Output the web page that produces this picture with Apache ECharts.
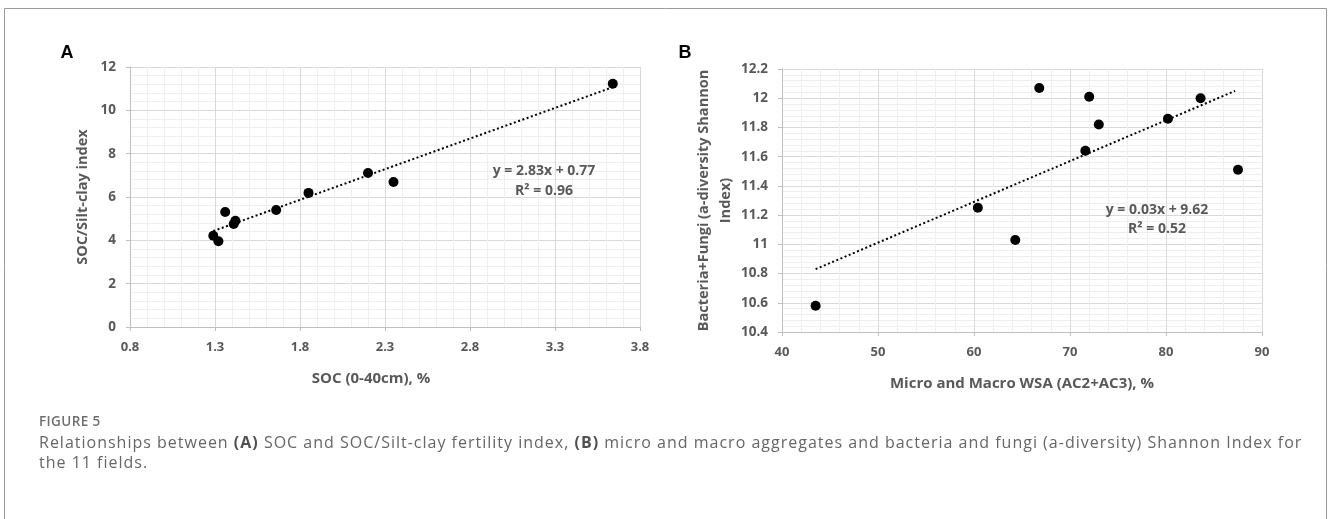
<!DOCTYPE html>
<html>
<head>
<meta charset="utf-8">
<script src="https://cdn.jsdelivr.net/npm/echarts@6/dist/echarts.min.js"></script>
<style>
html,body{margin:0;padding:0;background:#fff;}
#wrap{position:relative;width:1328px;height:519px;overflow:hidden;}
#chart{position:absolute;left:0;top:0;width:1328px;height:519px;}
#caption{position:absolute;left:39px;top:410px;width:1285px;font-family:"Open Sans",sans-serif;color:#666;}
#caption .fig{font-size:13.5px;font-weight:600;color:#6f6f6f;letter-spacing:0.4px;line-height:22px;}
#caption .txt{font-size:16px;line-height:20px;letter-spacing:1px;white-space:nowrap;}
#caption b{color:#505050;font-weight:700;}
</style>
</head>
<body>
<div id="wrap">
<div id="chart"></div>
<div id="caption"></div>
</div>
<script>
// Panel A: SOC vs SOC/Silt-clay index
const socX = [1.29, 1.32, 1.36, 1.41, 1.42, 1.66, 1.85, 2.20, 2.35, 3.64];
const socIndexY = [4.21, 3.96, 5.31, 4.75, 4.90, 5.40, 6.19, 7.11, 6.69, 11.23];
const trendAX = [1.29, 3.64];
const trendAY = [4.43, 11.07];
const eqA = ['y = 2.83x + 0.77', 'R² = 0.96'];

// Panel B: WSA vs Shannon index
const wsaX = [43.5, 60.4, 64.3, 66.8, 71.6, 72.0, 73.0, 80.2, 83.6, 87.5];
const shannonY = [10.58, 11.25, 11.03, 12.07, 11.64, 12.01, 11.82, 11.86, 12.00, 11.51];
const trendBX = [43.5, 87.2];
const trendBY = [10.83, 12.05];
const eqB = ['y = 0.03x + 9.62', 'R² = 0.52'];

const captionTitle = 'FIGURE 5';
const captionLines = [
  'Relationships between <b>(A)</b> SOC and SOC/Silt-clay fertility index, <b>(B)</b> micro and macro aggregates and bacteria and fungi (a-diversity) Shannon Index for',
  'the 11 fields.'
];

const FONT = '"Open Sans", sans-serif';
const LABEL_COLOR = '#595959';

document.getElementById('caption').innerHTML =
  '<div class="fig">' + captionTitle + '</div>' +
  captionLines.map(l => '<div class="txt">' + l + '</div>').join('');

function pairs(xs, ys) { return xs.map((x, i) => [x, ys[i]]); }

function xAxisCfg(gridIndex, min, max, interval, name, namePad) {
  return {
    type: 'value', gridIndex, min, max, interval,
    name, nameLocation: 'middle', nameGap: 44,
    nameTextStyle: { fontFamily: FONT, fontWeight: 'bold', fontSize: 15, color: LABEL_COLOR, padding: namePad },
    axisLine: { show: true, onZero: false, lineStyle: { color: '#bfbfbf', width: 1 } },
    axisTick: { show: true, length: 4, lineStyle: { color: '#bfbfbf' } },
    axisLabel: { margin: 14, fontFamily: FONT, fontWeight: 'bold', fontSize: 13, color: LABEL_COLOR },
    splitLine: { show: true, lineStyle: { color: '#d9d9d9', width: 1 } },
    minorTick: { show: false, splitNumber: 5 },
    minorSplitLine: { show: true, lineStyle: { color: '#efefef', width: 1 } }
  };
}
function yAxisCfg(gridIndex, min, max, interval, name, nameGap, lineHeight) {
  return {
    type: 'value', gridIndex, min, max, interval,
    name, nameLocation: 'middle', nameGap,
    nameTextStyle: { fontFamily: FONT, fontWeight: 'bold', fontSize: 14.5, color: LABEL_COLOR, lineHeight: lineHeight, align: 'center' },
    axisLine: { show: true, onZero: false, lineStyle: { color: '#bfbfbf', width: 1 } },
    axisTick: { show: true, length: 4, lineStyle: { color: '#bfbfbf' } },
    axisLabel: { margin: 14, fontFamily: FONT, fontWeight: 'bold', fontSize: 13.5, color: LABEL_COLOR },
    splitLine: { show: true, lineStyle: { color: '#d9d9d9', width: 1 } },
    minorTick: { show: false, splitNumber: 5 },
    minorSplitLine: { show: true, lineStyle: { color: '#efefef', width: 1 } }
  };
}

const chart = echarts.init(document.getElementById('chart'), null, { renderer: 'canvas' });

const textStyleEq = { fontFamily: FONT, fontWeight: 'bold', fontSize: 14, fill: LABEL_COLOR, textAlign: 'center', textVerticalAlign: 'middle' };
const dotStyle = { color: '#000', opacity: 1 };

chart.setOption({
  backgroundColor: '#ffffff',
  animation: false,
  grid: [
    { left: 130, top: 67, width: 510, height: 260 },
    { left: 782, top: 69, width: 480, height: 263 }
  ],
  xAxis: [
    xAxisCfg(0, 0.8, 3.8, 0.5, 'SOC (0-40cm), %', [0, 28, 0, 0]),
    xAxisCfg(1, 40, 90, 10, 'Micro and Macro WSA (AC2+AC3), %', 0)
  ],
  yAxis: [
    yAxisCfg(0, 0, 12, 2, 'SOC/Silt-clay index', 38, 18),
    yAxisCfg(1, 10.4, 12.2, 0.2, 'Bacteria+Fungi (a-diversity Shannon\nIndex)', 45, 22)
  ],
  series: [
    { type: 'scatter', xAxisIndex: 0, yAxisIndex: 0, data: pairs(socX, socIndexY), symbolSize: 10, itemStyle: dotStyle, z: 5 },
    { type: 'line', xAxisIndex: 0, yAxisIndex: 0, data: pairs(trendAX, trendAY), showSymbol: false, symbol: 'none',
      lineStyle: { color: '#000', width: 2, type: [2, 2.5] }, z: 4 },
    { type: 'scatter', xAxisIndex: 1, yAxisIndex: 1, data: pairs(wsaX, shannonY), symbolSize: 10, itemStyle: dotStyle, z: 5 },
    { type: 'line', xAxisIndex: 1, yAxisIndex: 1, data: pairs(trendBX, trendBY), showSymbol: false, symbol: 'none',
      lineStyle: { color: '#000', width: 2, type: [2, 2.5] }, z: 4 }
  ],
  graphic: [
    { type: 'rect', z: 0, shape: { x: 4.5, y: 8.5, width: 1322, height: 530 }, style: { fill: 'none', stroke: '#9a9a9a', lineWidth: 1 }, silent: true },
    { type: 'text', z: 100, x: 67, y: 53, style: { text: 'A', fontFamily: '"Liberation Sans", Arial, sans-serif', fontWeight: 'bold', fontSize: 18, fill: '#000', textAlign: 'center', textVerticalAlign: 'middle' } },
    { type: 'text', z: 100, x: 685, y: 53, style: { text: 'B', fontFamily: '"Liberation Sans", Arial, sans-serif', fontWeight: 'bold', fontSize: 18, fill: '#000', textAlign: 'center', textVerticalAlign: 'middle' } },
    { type: 'text', z: 100, x: 544, y: 171, style: Object.assign({ text: eqA[0] }, textStyleEq) },
    { type: 'text', z: 100, x: 544, y: 191, style: Object.assign({ text: eqA[1] }, textStyleEq) },
    { type: 'text', z: 100, x: 1157, y: 210, style: Object.assign({ text: eqB[0] }, textStyleEq) },
    { type: 'text', z: 100, x: 1157, y: 229, style: Object.assign({ text: eqB[1] }, textStyleEq) }
  ]
});
</script>
</body>
</html>
